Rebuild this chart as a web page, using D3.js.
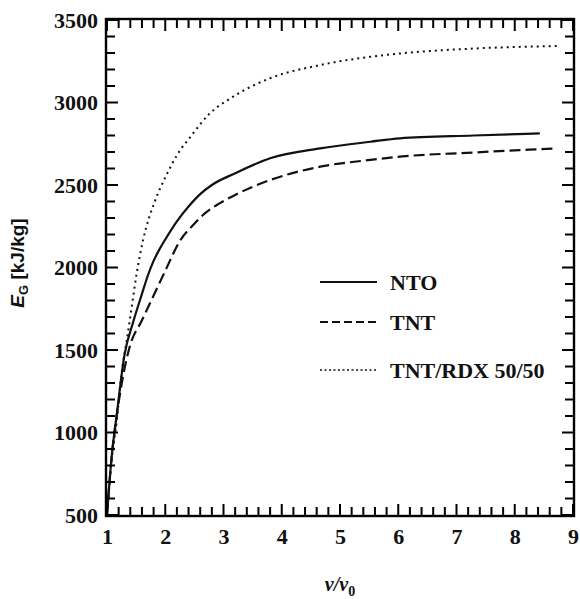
<!DOCTYPE html>
<html>
<head>
<meta charset="utf-8">
<script src="https://cdn.jsdelivr.net/npm/d3@7"></script>
<style>
  body { margin: 0; background: #fff; }
  svg { display: block; }
  .tick text { font-family: "Liberation Serif", serif; font-weight: bold; font-size: 22px; fill: #111; }
</style>
</head>
<body>
<svg id="chart" width="580" height="599"></svg>
<script>
// values: expansion ratio v/v0 vs Gurney energy (kJ/kg)
const ntoV  = [1.0, 1.08, 1.17, 1.3, 1.45, 1.6, 1.7, 1.8, 1.9, 2.0, 2.2, 2.4, 2.6, 2.8, 3.2, 3.8, 4.66, 5.52, 6.03, 7.29, 8.43];
const ntoE  = [500, 853, 1116, 1470, 1670, 1840, 1950, 2040, 2110, 2170, 2280, 2370, 2445, 2500, 2571, 2662, 2722, 2762, 2783, 2800, 2813];

const tntV  = [1.0, 1.08, 1.17, 1.28, 1.39, 1.6, 1.8, 2.0, 2.25, 2.5, 2.68, 2.94, 3.2, 3.8, 4.66, 5.52, 6.03, 7.29, 8.72];
const tntE  = [500, 850, 1110, 1350, 1520, 1680, 1830, 1980, 2160, 2265, 2328, 2390, 2440, 2530, 2611, 2652, 2672, 2697, 2722];

const rdxV  = [1.0, 1.08, 1.17, 1.25, 1.34, 1.42, 1.51, 1.62, 1.82, 2.02, 2.2, 2.45, 2.74, 3.14, 3.8, 4.66, 5.52, 6.03, 7.29, 8.72];
const rdxE  = [500, 830, 1080, 1358, 1560, 1750, 1965, 2167, 2400, 2560, 2680, 2800, 2925, 3030, 3147, 3227, 3277, 3297, 3327, 3342];

const seriesNames = ["NTO", "TNT", "TNT/RDX 50/50"];
const xTicks = [1, 2, 3, 4, 5, 6, 7, 8, 9];
const yTicks = [500, 1000, 1500, 2000, 2500, 3000, 3500];

const svg = d3.select("#chart");
const margin = {top: 20, right: 7, bottom: 84, left: 107};
const W = 580, H = 599;

const x = d3.scaleLinear().domain([1, 9]).range([margin.left, W - margin.right]);
const y = d3.scaleLinear().domain([500, 3500]).range([H - margin.bottom, margin.top]);

const xMinor = d3.range(0, 41).map(i => 1 + i * 0.2);
const yMinor = d3.range(0, 31).map(i => 500 + i * 100);

// tick labels
svg.append("g").attr("transform", `translate(0,${y(500)})`)
  .call(d3.axisBottom(x).tickValues(xTicks).tickSize(0).tickPadding(13).tickFormat(d3.format("d")))
  .select(".domain").remove();
svg.append("g").attr("transform", `translate(${x(1)},0)`)
  .call(d3.axisLeft(y).tickValues(yTicks).tickSize(0).tickPadding(9).tickFormat(d3.format("d")))
  .select(".domain").remove();

const styles = [
  {dash: null, width: 2.2},
  {dash: "11,5", width: 2.2},
  {dash: "2,4", width: 2}
];

const line = d3.line().x(d => x(d[0])).y(d => y(d[1])).curve(d3.curveMonotoneX);
const data = [
  ntoV.map((v, i) => [v, ntoE[i]]),
  tntV.map((v, i) => [v, tntE[i]]),
  rdxV.map((v, i) => [v, rdxE[i]])
];

svg.selectAll(".series").data(data).enter().append("path")
  .attr("class", "series")
  .attr("d", line)
  .attr("fill", "none")
  .attr("stroke", "#111")
  .attr("stroke-width", (d, i) => styles[i].width)
  .attr("stroke-dasharray", (d, i) => styles[i].dash);

// legend
const legendY = [282, 322, 370];
const lg = svg.append("g");
seriesNames.forEach((name, i) => {
  lg.append("line")
    .attr("x1", 320).attr("x2", 377)
    .attr("y1", legendY[i]).attr("y2", legendY[i])
    .attr("stroke", "#111")
    .attr("stroke-width", i == 2 ? 1.4 : 1.8)
    .attr("stroke-dasharray", i == 0 ? null : (i == 1 ? "8,4" : "2,2.5"));
  lg.append("text")
    .attr("x", 390).attr("y", legendY[i] + 8)
    .attr("font-family", "Liberation Serif, serif")
    .attr("font-weight", "bold")
    .attr("font-size", 22)
    .attr("fill", "#111")
    .text(name);
});

// axis titles
const xt = svg.append("text")
  .attr("x", 340).attr("y", 591)
  .attr("text-anchor", "middle")
  .attr("font-family", "Liberation Serif, serif")
  .attr("font-weight", "bold")
  .attr("font-size", 20)
  .attr("fill", "#111");
xt.append("tspan").attr("font-style", "italic").text("v/v");
xt.append("tspan").attr("font-size", 14).attr("dy", 5).text("0");

const yt = svg.append("text")
  .attr("transform", "translate(24,263) rotate(-90)")
  .attr("text-anchor", "middle")
  .attr("font-family", "Liberation Sans, sans-serif")
  .attr("font-weight", "bold")
  .attr("font-size", 19)
  .attr("fill", "#111");
yt.append("tspan").attr("font-style", "italic").text("E");
yt.append("tspan").attr("font-size", 13).attr("dy", 4).text("G");
yt.append("tspan").attr("dy", -4).text(" [kJ/kg]");

// frame
svg.append("rect")
  .attr("x", x(1) - 1).attr("y", y(3500) - 1)
  .attr("width", x(9) - x(1) + 2).attr("height", y(500) - y(3500) + 2)
  .attr("fill", "none").attr("stroke", "black").attr("stroke-width", 2.4);

// inward ticks as small filled bars
const tk = svg.append("g").attr("fill", "black");
const tlen = i => (i % 5 == 0 ? 11 : 8);
tk.selectAll(".xb").data(xMinor).enter().append("rect")
  .attr("x", d => x(d) - 1).attr("width", 2)
  .attr("y", (d, i) => y(500) - tlen(i)).attr("height", (d, i) => tlen(i));
tk.selectAll(".xt").data(xMinor).enter().append("rect")
  .attr("x", d => x(d) - 1).attr("width", 2)
  .attr("y", y(3500)).attr("height", (d, i) => tlen(i));
tk.selectAll(".yl").data(yMinor).enter().append("rect")
  .attr("y", d => y(d) - 1).attr("height", 2)
  .attr("x", x(1)).attr("width", (d, i) => tlen(i));
tk.selectAll(".yr").data(yMinor).enter().append("rect")
  .attr("y", d => y(d) - 1).attr("height", 2)
  .attr("x", (d, i) => x(9) - tlen(i)).attr("width", (d, i) => tlen(i));
</script>
</body>
</html>
